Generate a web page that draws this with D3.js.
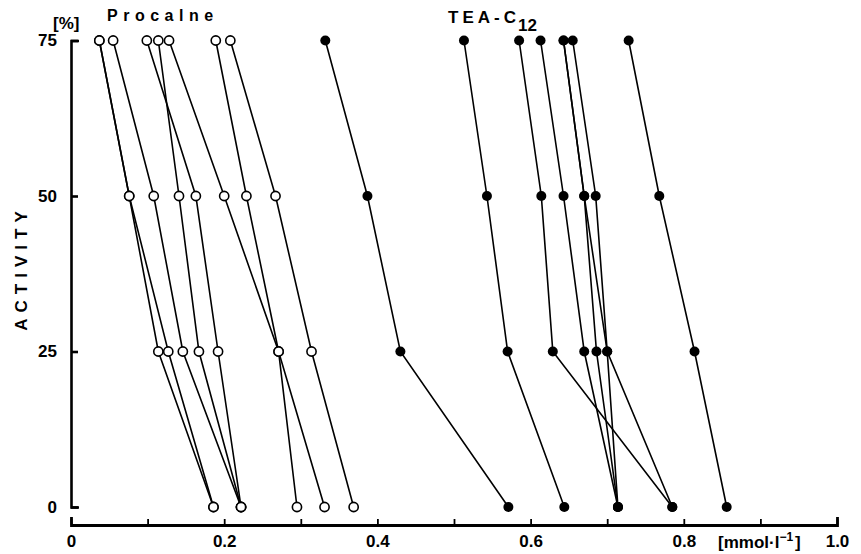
<!DOCTYPE html>
<html>
<head>
<meta charset="utf-8">
<script src="https://cdn.jsdelivr.net/npm/d3@7"></script>
<style>
  html, body { margin: 0; padding: 0; background: #fff; }
  svg { display: block; }
  text { font-family: "Liberation Sans", Arial, sans-serif; font-weight: bold; fill: #000; }
</style>
</head>
<body>
<svg id="chart" width="861" height="554"></svg>
<script>
// ---- data ----
const activityLevels = [75, 50, 25, 0];           // % activity for each column of values
// Procaine series: concentration (mmol/l) at 75, 50, 25, 0 %
const procaineValues = [
  [0.037, 0.076, 0.114, 0.186],
  [0.037, 0.076, 0.127, 0.186],
  [0.055, 0.108, 0.146, 0.222],
  [0.099, 0.163, 0.192, 0.222],
  [0.114, 0.141, 0.167, 0.222],
  [0.128, 0.200, 0.271, 0.331],
  [0.189, 0.229, 0.271, 0.295],
  [0.208, 0.267, 0.314, 0.369]
];
// TEA-C12 series: concentration (mmol/l) at 75, 50, 25, 0 %
const teaValues = [
  [0.332, 0.387, 0.430, 0.571],
  [0.513, 0.543, 0.570, 0.644],
  [0.585, 0.614, 0.629, 0.785],
  [0.613, 0.643, 0.670, 0.714],
  [0.643, 0.670, 0.686, 0.714],
  [0.643, 0.670, 0.700, 0.785],
  [0.655, 0.685, 0.700, 0.714],
  [0.728, 0.768, 0.814, 0.856]
];
const xTickValues = [0, 0.1, 0.2, 0.3, 0.4, 0.5, 0.6, 0.7, 0.8, 0.9, 1.0];
const xTickLabels = ["0", "", "0.2", "", "0.4", "", "0.6", "", "0.8", "", "1.0"];
const yTickValues = [0, 25, 50, 75];

// ---- scales ----
const svg = d3.select("#chart");
const x = d3.scaleLinear().domain([0, 1]).range([71, 837]);
const y = d3.scaleLinear().domain([0, 75]).range([507, 40.5]);

// ---- axes ----
const yAxis = d3.axisLeft(y)
  .tickValues(yTickValues)
  .tickSizeInner(-7)
  .tickSizeOuter(-8)
  .tickPadding(14)
  .tickFormat(d3.format("d"));
const gy = svg.append("g").attr("transform", "translate(71,0)").call(yAxis);
gy.select(".domain").attr("stroke", "#000").attr("stroke-width", 2.6).attr("fill", "none");
gy.selectAll(".tick line").attr("stroke", "#000").attr("stroke-width", 2.6);
gy.selectAll(".tick text").attr("font-size", 17).attr("font-family", "Liberation Sans, Arial, sans-serif").attr("font-weight", "bold");

const xAxis = d3.axisBottom(x)
  .tickValues(xTickValues)
  .tickSizeInner(-6)
  .tickSizeOuter(-8)
  .tickPadding(10)
  .tickFormat((d, i) => xTickLabels[i]);
const gx = svg.append("g").attr("transform", "translate(0,525)").call(xAxis);
gx.select(".domain").attr("stroke", "#000").attr("stroke-width", 2.8).attr("fill", "none");
gx.selectAll(".tick line").attr("stroke", "#000").attr("stroke-width", 1.8);
gx.selectAll(".tick text").attr("font-size", 17).attr("font-family", "Liberation Sans, Arial, sans-serif").attr("font-weight", "bold");

// ---- lines ----
const line = d3.line().x(d => x(d[0])).y(d => y(d[1]));
function toPts(vals) { return vals.map((v, i) => [v, activityLevels[i]]); }

const gLines = svg.append("g");
procaineValues.concat(teaValues).forEach(s => {
  gLines.append("path")
    .attr("d", line(toPts(s)))
    .attr("fill", "none")
    .attr("stroke", "#000")
    .attr("stroke-width", 1.6);
});

// ---- markers ----
const gPts = svg.append("g");
procaineValues.forEach(s => {
  toPts(s).forEach(p => {
    gPts.append("circle")
      .attr("cx", x(p[0])).attr("cy", y(p[1])).attr("r", 4.6)
      .attr("fill", "#fff").attr("stroke", "#000").attr("stroke-width", 1.6);
  });
});
teaValues.forEach(s => {
  toPts(s).forEach(p => {
    gPts.append("circle")
      .attr("cx", x(p[0])).attr("cy", y(p[1])).attr("r", 5)
      .attr("fill", "#000");
  });
});

// ---- labels ----
svg.append("text").attr("x", 53).attr("y", 29).attr("font-size", 17).text("[%]");
svg.append("text").attr("x", 107).attr("y", 21).attr("font-size", 16)
  .attr("letter-spacing", 5.5).text("Procalne");
const tea = svg.append("text").attr("x", 448).attr("y", 23).attr("font-size", 17).attr("letter-spacing", 4);
tea.append("tspan").text("TEA-C");
tea.append("tspan").attr("dy", 8).attr("dx", -2).attr("letter-spacing", 0).text("12");

svg.append("text")
  .attr("transform", "translate(27,268) rotate(-90)")
  .attr("text-anchor", "middle")
  .attr("font-size", 17)
  .attr("letter-spacing", 6)
  .text("ACTIVITY");

const unit = svg.append("text").attr("x", 718).attr("y", 548).attr("font-size", 17);
unit.append("tspan").text("[mmol·l");
unit.append("tspan").attr("dy", -7).attr("font-size", 12).text("−1");
unit.append("tspan").attr("dy", 7).attr("dx", 2).text("]");
</script>
</body>
</html>
